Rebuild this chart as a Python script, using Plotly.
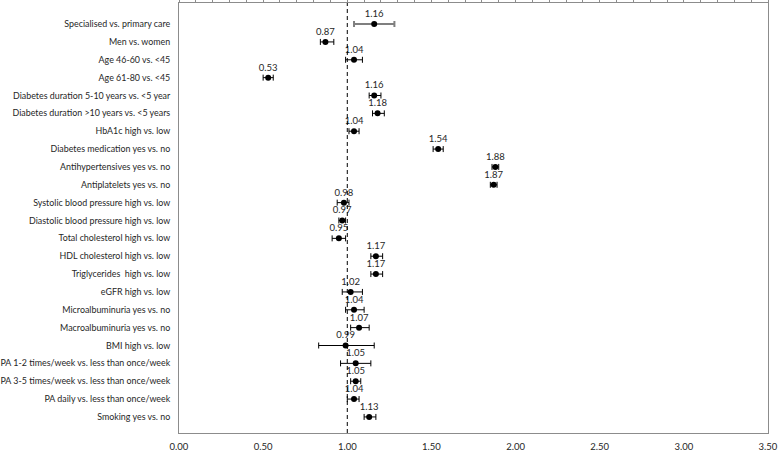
import plotly.graph_objects as go

categories = [
    "Specialised vs. primary care",
    "Men vs. women",
    "Age 46-60 vs. <45",
    "Age 61-80 vs. <45",
    "Diabetes duration 5-10 years vs. <5 year",
    "Diabetes duration >10 years vs. <5 years",
    "HbA1c high vs. low",
    "Diabetes medication yes vs. no",
    "Antihypertensives yes vs. no",
    "Antiplatelets yes vs. no",
    "Systolic blood pressure high vs. low",
    "Diastolic blood pressure high vs. low",
    "Total cholesterol high vs. low",
    "HDL cholesterol high vs. low",
    "Triglycerides  high vs. low",
    "eGFR high vs. low",
    "Microalbuminuria yes vs. no",
    "Macroalbuminuria yes vs. no",
    "BMI high vs. low",
    "PA 1-2 times/week vs. less than once/week",
    "PA 3-5 times/week vs. less than once/week",
    "PA daily vs. less than once/week",
    "Smoking yes vs. no",
]
estimates = [1.16, 0.87, 1.04, 0.53, 1.16, 1.18, 1.04, 1.54, 1.88, 1.87, 0.98, 0.97,
             0.95, 1.17, 1.17, 1.02, 1.04, 1.07, 0.99, 1.05, 1.05, 1.04, 1.13]
ci_low = [1.04, 0.84, 0.99, 0.50, 1.13, 1.15, 1.01, 1.51, 1.86, 1.85, 0.94, 0.95,
          0.91, 1.14, 1.14, 0.97, 0.99, 1.02, 0.83, 0.96, 1.02, 1.00, 1.10]
ci_high = [1.28, 0.92, 1.09, 0.56, 1.20, 1.22, 1.07, 1.57, 1.90, 1.89, 1.01, 0.99,
           0.99, 1.21, 1.21, 1.09, 1.10, 1.13, 1.16, 1.14, 1.08, 1.07, 1.17]
value_labels = ["%.2f" % v for v in estimates]
x_ticks = [0, 0.5, 1.0, 1.5, 2.0, 2.5, 3.0, 3.5]
x_tick_labels = ["0.00", "0.50", "1.00", "1.50", "2.00", "2.50", "3.00", "3.50"]

FONT = "Lato, 'Open Sans', sans-serif"
TXT = "#262626"
BORDER = "#8c8c8c"

fig = go.Figure()

def add_rows(idx, bar_color, bar_thick):
    fig.add_trace(go.Scatter(
        x=[estimates[i] for i in idx],
        y=[categories[i] for i in idx],
        mode="markers+text",
        text=[value_labels[i] for i in idx],
        textposition="top center",
        textfont=dict(family=FONT, size=9.5, color=TXT),
        marker=dict(color="black", size=6),
        error_x=dict(type="data", symmetric=False,
                     array=[ci_high[i] - estimates[i] for i in idx],
                     arrayminus=[estimates[i] - ci_low[i] for i in idx],
                     color=bar_color, thickness=bar_thick, width=3),
        showlegend=False, hoverinfo="skip",
    ))

add_rows([0], "#7f7f7f", 2)
add_rows(list(range(1, len(categories))), "black", 1)

# invisible trace for top axis
fig.add_trace(go.Scatter(x=[0, 3.5], y=[categories[0], categories[0]], xaxis="x2",
                         mode="markers", marker=dict(opacity=0), showlegend=False,
                         hoverinfo="skip"))

fig.add_shape(type="line", x0=1, x1=1, y0=0, y1=1, xref="x", yref="paper",
              line=dict(color="black", width=1, dash="4px,3px"))

fig.update_layout(
    width=778, height=453,
    margin=dict(l=179, r=10, t=3, b=20, autoexpand=False),
    paper_bgcolor="white", plot_bgcolor="white",
    font=dict(family=FONT, size=9, color=TXT),
    xaxis=dict(range=[0, 3.5], tickvals=x_ticks, ticktext=x_tick_labels,
               showgrid=False, zeroline=False, showline=True, linecolor=BORDER,
               linewidth=1, ticks="", ticklabelstandoff=5, automargin=False,
               tickfont=dict(family=FONT, size=9.5, color=TXT)),
    xaxis2=dict(range=[0, 3.5], overlaying="x", side="top", dtick=0.1, tick0=0,
                showticklabels=False, ticks="outside", ticklen=3, tickcolor=BORDER,
                showgrid=False, zeroline=False, showline=True, linecolor=BORDER,
                linewidth=1, automargin=False),
    yaxis=dict(type="category", categoryorder="array", categoryarray=categories,
               range=[22.9, -1.18], showgrid=False, zeroline=False, showline=True,
               linecolor=BORDER, linewidth=1, mirror=True, ticks="",
               ticklabelstandoff=6, automargin=False,
               tickfont=dict(family=FONT, size=8.9, color=TXT)),
)

fig.write_html("out.html", config={"displayModeBar": False},
               post_script="document.body.style.margin='0';document.body.style.overflow='hidden';")
